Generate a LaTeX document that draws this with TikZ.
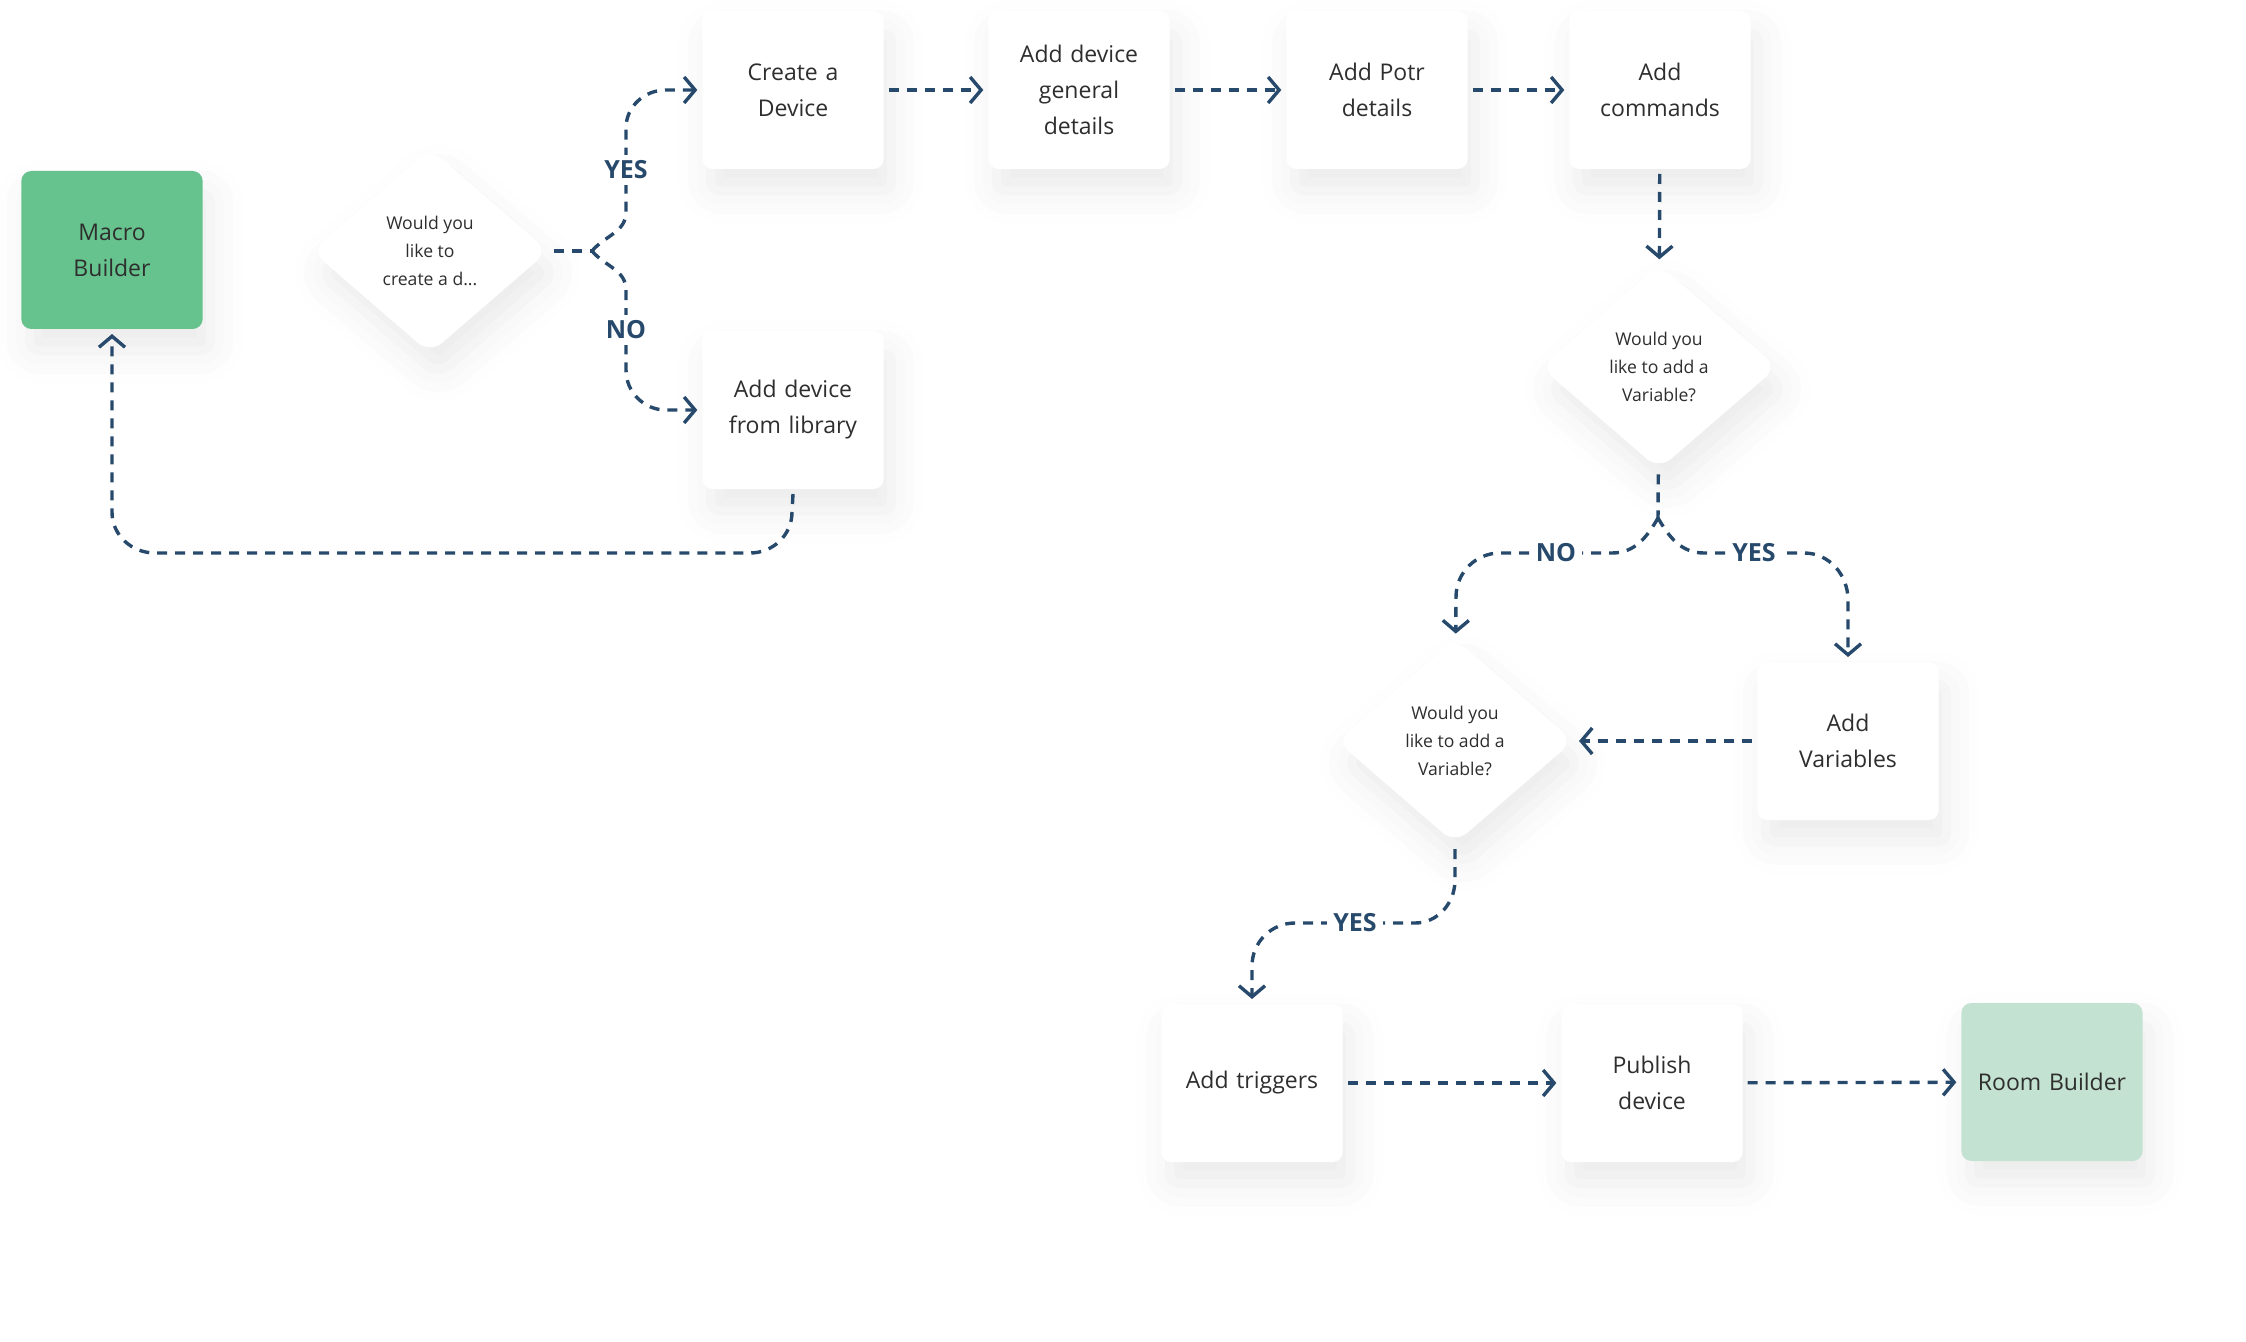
\documentclass[tikz,border=0pt]{standalone}
\usepackage{fontspec}
\setmainfont{Open Sans}
\usetikzlibrary{arrows.meta}
\usetikzlibrary{shapes.geometric}
\usetikzlibrary{shadows.blur}

\definecolor{flowblue}{HTML}{27496B}
\definecolor{macrogreen}{HTML}{67C38E}
\definecolor{roomgreen}{HTML}{C4E2D1}
\definecolor{inktext}{HTML}{2E2E2E}

\begin{document}
\begin{tikzpicture}[
        x=0.5pt, y=0.5pt,
        softshadow/.style={blur shadow={shadow xshift=4pt,shadow yshift=-11pt,shadow blur radius=16pt,shadow opacity=8}},
        card/.style={rectangle,rounded corners=5pt,fill=white,minimum width=89.5pt,minimum height=79pt,text width=84pt,align=center,text=inktext,font=\fontsize{11.5}{18}\selectfont,outer sep=2.5pt,softshadow},
        ask/.style={diamond,rounded corners=8pt,fill=white,minimum width=120pt,minimum height=104pt,inner sep=0pt,align=center,text=inktext,font=\fontsize{8.8}{14}\selectfont,outer sep=2pt,softshadow},
        flow/.style={draw=flowblue,line width=1.7pt,dash pattern=on 5pt off 4pt,-{Straight Barb[length=5.5pt,width=13pt]}},
        answer/.style={fill=white,text=flowblue,font=\bfseries\fontsize{12.5}{14}\selectfont,inner sep=3pt},
        ]
        \useasboundingbox (0,0) rectangle (2246,-1342);

        \node[card, fill=macrogreen](mb) at (112,-250){Macro\\Builder};
        \node[ask](dev) at (430,-251){Would you\\like to\\create a d...};
        \node[card](cd) at (793,-90){Create a\\Device};
        \node[card](gen) at (1079,-90){Add device\\general\\details};
        \node[card](potr) at (1377,-90){Add Potr\\details};
        \node[card](cmd) at (1660,-90){Add\\commands};
        \node[card](lib) at (cd |- 0,-410){Add device\\from library};
        \node[ask](var1) at (1659,-367){Would you\\like to add a\\Variable?};
        \node[ask](var2) at (1455,-741){Would you\\like to add a\\Variable?};
        \node[card](addvar) at (1848,-741){Add\\Variables};
        \node[card](trig) at (1252,-1083){Add triggers};
        \node[card](pub) at (1652,-1083){Publish\\device};
        \node[card, fill=roomgreen](room) at (2052,-1082){Room Builder};

        \coordinate (fork1) at (592,-251);
        \coordinate (fork2) at (1658,-518);

        % create or pick from library
        \draw[flow,-] (dev.east) -- (fork1);
        \draw[flow] (fork1) to[out=50,in=-90] (626,-212) -- node[answer]{YES} (626,-128) to[out=90,in=180] (666,-90) -- (cd.west);
        \draw[flow] (fork1) to[out=-50,in=90] (626,-290) -- node[answer]{NO} (626,-370) to[out=-90,in=180] (666,-410) -- (lib.west);
        \draw[flow] (lib.south) -- (792,-512) to[out=-90,in=0] (750,-553) -- (155,-553) to[out=180,in=-90] (112,-512) -- (mb);

        \draw[flow] (cd) -- (gen);
        \draw[flow] (gen) -- (potr);
        \draw[flow] (potr) -- (cmd);
        \draw[flow] (cmd) -- (var1);

        % variables
        \draw[flow,-] (var1) -- (fork2);
        \draw[flow] (fork2) to[out=-120,in=0] (1612,-553) -- node[answer]{NO} (1500,-553) to[out=180,in=90] (1456,-597) -- (var2);
        \draw[flow] (fork2) to[out=-60,in=180] (1704,-553) -- node[answer]{YES} (1804,-553) to[out=0,in=90] (1848,-600) -- (addvar);
        \draw[flow] (addvar) -- (var2);
        \draw[flow] (var2.south) -- (1455,-880) to[out=-90,in=0] (1415,-923) -- node[answer]{YES} (1295,-923) to[out=180,in=90] (1252,-966) -- (trig);

        \draw[flow] (trig) -- (pub);
        \draw[flow] (pub) -- (room);

\end{tikzpicture}
\end{document}
